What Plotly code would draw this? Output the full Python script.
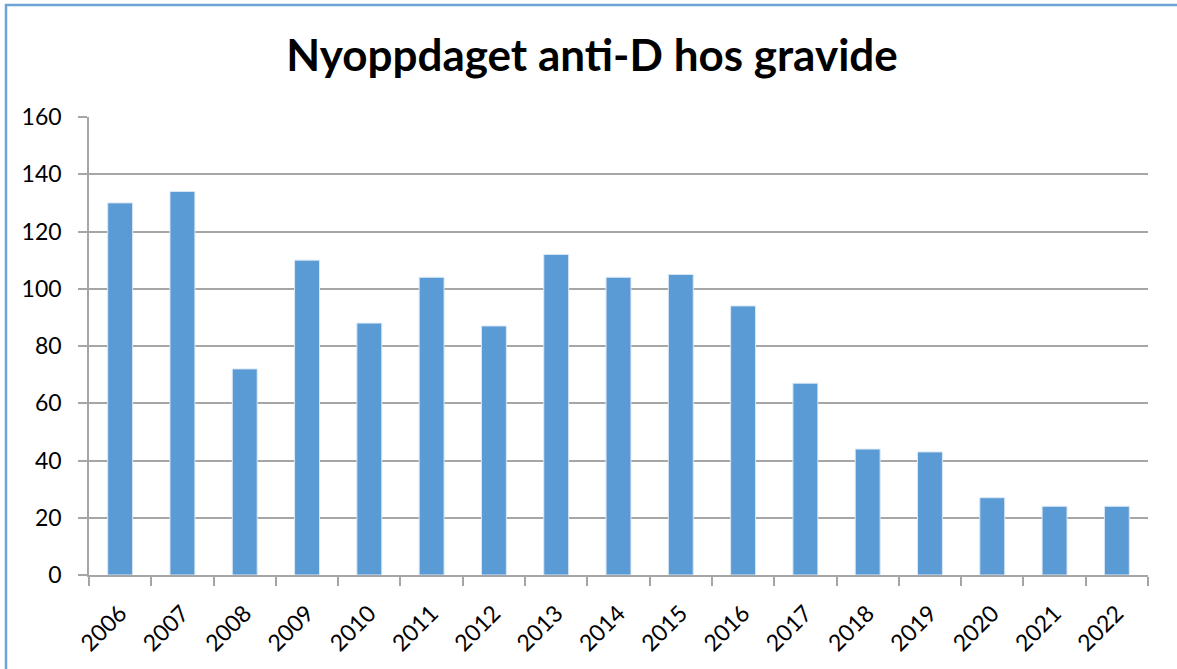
import plotly.graph_objects as go

years = ["2006", "2007", "2008", "2009", "2010", "2011", "2012", "2013", "2014",
         "2015", "2016", "2017", "2018", "2019", "2020", "2021", "2022"]
values = [130, 134, 72, 110, 88, 104, 87, 112, 104, 105, 94, 67, 44, 43, 27, 24, 24]
title_text = "Nyoppdaget anti-D hos gravide"
y_ticks = [0, 20, 40, 60, 80, 100, 120, 140, 160]

W, H = 1177, 669
L, R, T, B = 89, 29, 117, 94
pw, ph = W - L - R, H - T - B

fig = go.Figure(go.Bar(
    x=years, y=values,
    marker=dict(color="#5b9bd5", line=dict(color="#dbe8f5", width=1)),
))

grid = "#a6a6a6"
FONT = "Lato, Open Sans, sans-serif"
fig.update_layout(
    width=W, height=H,
    margin=dict(l=L, r=R, t=T, b=B),
    paper_bgcolor="white", plot_bgcolor="white",
    bargap=0.6,
    showlegend=False,
    font=dict(family=FONT, color="black"),
    title=dict(text="<b>" + title_text + "</b>", x=0.503, xanchor="center",
               y=1 - 56 / H, yanchor="middle",
               font=dict(size=44, family=FONT, color="black")),
    xaxis=dict(
        type="category", tickangle=-45, tickfont=dict(size=23),
        ticks="outside", tickson="boundaries", ticklen=9, tickcolor=grid, tickwidth=1.5,
        ticklabelstandoff=14,
        showline=True, linecolor=grid, linewidth=1.5, showgrid=False,
    ),
    yaxis=dict(
        range=[0, 160], tickvals=y_ticks, tickfont=dict(size=23),
        ticks="outside", ticklen=9, tickcolor=grid, tickwidth=1.5,
        ticklabelstandoff=12,
        showline=True, linecolor=grid, linewidth=1.5,
        showgrid=True, gridcolor=grid, gridwidth=1.5, zeroline=False,
    ),
)

# outer chart border (only top and left visible in the reference)
fig.add_shape(type="rect", xref="paper", yref="paper",
              x0=(6 - L) / pw, x1=(W + 20 - L) / pw,
              y0=-(B + 20) / ph, y1=1 + (T - 5) / ph,
              line=dict(color="#6fa3d8", width=2.5), layer="above")

fig.write_html("out.html", config={"displayModeBar": False},
               post_script="document.body.style.margin='0';document.body.style.overflow='hidden';")
